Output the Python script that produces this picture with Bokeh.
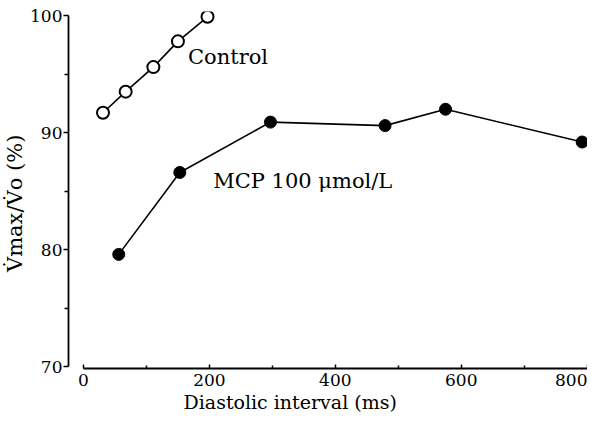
from bokeh.plotting import figure
from bokeh.models import Range1d, FixedTicker, Title, Label
from bokeh.embed import file_html
from bokeh.resources import INLINE

# data
ctrl_x = [31, 67, 111, 150, 197]
ctrl_y = [91.7, 93.5, 95.6, 97.8, 99.9]
mcp_x = [56, 153, 297, 479, 575, 792]
mcp_y = [79.6, 86.6, 90.9, 90.6, 92.0, 89.2]

x_ticks = [0, 200, 400, 600, 800]
x_minor = [100, 300, 500, 700]
y_ticks = [70, 80, 90, 100]
y_minor = [75, 85, 95]

FONT = "DejaVu Serif"

p = figure(width=587, height=415, output_backend="svg", toolbar_location=None,
           title_location=None,
           x_range=Range1d(-23.8, 800.5), y_range=Range1d(69.85, 100.35),
           min_border_left=68, min_border_right=0, min_border_top=11, min_border_bottom=47)
p.outline_line_color = None
p.grid.visible = False
p.background_fill_color = "white"
p.border_fill_color = "white"

# lines and markers
p.line(ctrl_x, ctrl_y, line_color="black", line_width=1.6)
p.scatter(ctrl_x, ctrl_y, size=12, marker="circle", fill_color="white",
          line_color="black", line_width=2)
p.line(mcp_x, mcp_y, line_color="black", line_width=1.6)
p.scatter(mcp_x, mcp_y, size=12, marker="circle", fill_color="black",
          line_color="black")

# annotations
p.add_layout(Label(x=166, y=96.5, text="Control", text_font=FONT, text_font_size="21px",
                   text_baseline="middle", text_align="left", text_color="black"))
p.add_layout(Label(x=206, y=85.85, text="MCP 100 \u03bcmol/L", text_font=FONT,
                   text_font_size="21px", text_baseline="middle", text_align="left",
                   text_color="black"))

# x axis
xa = p.xaxis[0]
xa.ticker = FixedTicker(ticks=x_ticks, minor_ticks=x_minor)
xa.bounds = (0, 800)
xa.axis_line_width = 1.8
xa.axis_line_color = "black"
xa.major_tick_in = 4
xa.major_tick_out = 0
xa.minor_tick_in = 3
xa.minor_tick_out = 0
xa.major_tick_line_width = 1.5
xa.minor_tick_line_width = 1.5
xa.major_label_standoff = 5
xa.major_label_text_font = FONT
xa.major_label_text_font_size = "17px"
xa.major_label_text_color = "black"

# y axis
ya = p.yaxis[0]
ya.ticker = FixedTicker(ticks=y_ticks, minor_ticks=y_minor)
ya.bounds = (70, 100)
ya.axis_line_width = 1.8
ya.axis_line_color = "black"
ya.major_tick_in = 0
ya.major_tick_out = 5
ya.minor_tick_in = 0
ya.minor_tick_out = 4
ya.major_tick_line_width = 1.5
ya.minor_tick_line_width = 1.5
ya.major_label_standoff = 1
ya.major_label_text_font = FONT
ya.major_label_text_font_size = "17px"
ya.major_label_text_color = "black"
ya.axis_label = "V\u0307max/V\u0307o  (%)\u00a0\u00a0\u00a0"
ya.axis_label_text_font = FONT
ya.axis_label_text_font_size = "21px"
ya.axis_label_text_font_style = "normal"
ya.axis_label_text_color = "black"
ya.axis_label_standoff = 0

# x axis label, placed left of centre as in the reference
p.add_layout(Title(text="Diastolic interval (ms)", align="left", offset=115, standoff=0,
                   text_font=FONT, text_font_size="19px", text_font_style="normal",
                   text_color="black"), "below")

open("out.html", "w").write(file_html(p, INLINE))
